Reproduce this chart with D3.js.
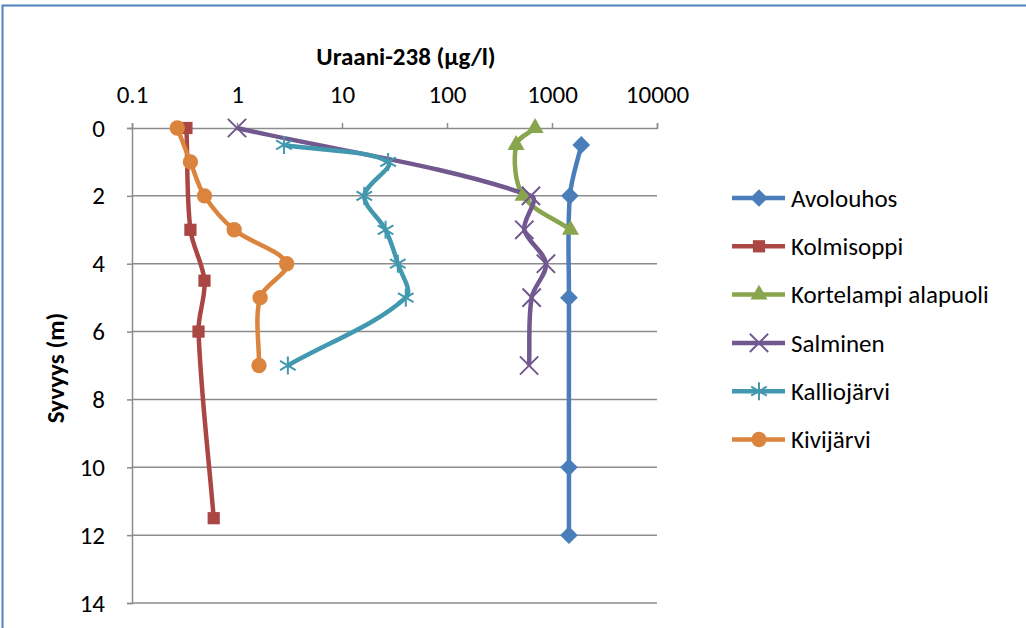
<!DOCTYPE html>
<html>
<head>
    <meta charset="utf-8">
    <script src="https://d3js.org/d3.v7.min.js"></script>
    <style type="text/css">
        body { margin: 0; background: #fff; }
        svg { display: block; font-family: Carlito, Calibri, Lato, sans-serif; }
    </style>
</head>
<body>
<script type="text/javascript">
    // depths (m) and uranium values (ug/l)
    var seriesNames = ["Avolouhos", "Kolmisoppi", "Kortelampi alapuoli", "Salminen", "Kalliojärvi", "Kivijärvi"];

    var avolouhosDepth = [0.5, 2, 5, 10, 12];
    var avolouhosValue = [1900, 1480, 1450, 1450, 1450];

    var kolmisoppiDepth = [0, 3, 4.5, 6, 11.5];
    var kolmisoppiValue = [0.33, 0.36, 0.49, 0.43, 0.6];

    var kortelampiDepth = [0, 0.5, 2, 3];
    var kortelampiValue = [690, 455, 530, 1500];

    var salminenDepth = [0, 2, 3, 4, 5, 7];
    var salminenValue = [1.0, 630, 545, 875, 640, 605];

    var kalliojarviDepth = [0.5, 1, 2, 3, 4, 5, 7];
    var kalliojarviValue = [2.8, 27.5, 16.3, 26, 34, 40.5, 3.05];

    var kivijarviDepth = [0, 1, 2, 3, 4, 5, 7];
    var kivijarviValue = [0.27, 0.36, 0.49, 0.94, 2.97, 1.66, 1.62];

    var xTicks = [0.1, 1, 10, 100, 1000, 10000];
    var yTicks = [0, 2, 4, 6, 8, 10, 12, 14];

    var colors = ["#4a7ebb", "#aa4643", "#89a54e", "#71588f", "#4198af", "#db843d"];
    var symbols = [d3.symbolDiamond2, d3.symbolSquare2, d3.symbolTriangle2, d3.symbolX, d3.symbolAsterisk, d3.symbolCircle];

    var depths = [avolouhosDepth, kolmisoppiDepth, kortelampiDepth, salminenDepth, kalliojarviDepth, kivijarviDepth];
    var values = [avolouhosValue, kolmisoppiValue, kortelampiValue, salminenValue, kalliojarviValue, kivijarviValue];

    var series = seriesNames.map(function(name, i) {
        return {
            name: name,
            color: colors[i],
            symbol: symbols[i],
            points: depths[i].map(function(d, j) { return {depth: d, value: values[i][j]}; })
        };
    });

    var width = 1026, height = 628;
    var fontSize = "25px";
    var svg = d3.select("body").append("svg")
        .attr("width", width)
        .attr("height", height);

    // outer frame (top and left edges visible)
    svg.append("path")
        .attr("d", "M2.5,628 L2.5,5.5 L1026,5.5")
        .attr("fill", "none")
        .attr("stroke", "#4f81bd")
        .attr("stroke-width", 2);

    var x = d3.scaleLog().domain([0.1, 10000]).range([132, 657]);
    var y = d3.scaleLinear().domain([0, 14]).range([128, 603]);

    // horizontal gridlines
    svg.append("g")
        .selectAll("line")
        .data(yTicks.slice(1))
        .join("line")
        .attr("x1", x(0.1)).attr("x2", x(10000))
        .attr("y1", function(d) { return y(d); })
        .attr("y2", function(d) { return y(d); })
        .attr("stroke", "#8c8c8c")
        .attr("stroke-width", 1.5);

    // x axis at top
    var xAxis = svg.append("g")
        .attr("transform", "translate(0," + y(0) + ")")
        .call(d3.axisTop(x).tickValues(xTicks).tickFormat(function(d) { return String(d); }).tickSize(5).tickPadding(20));

    // y axis on the left
    var yAxis = svg.append("g")
        .attr("transform", "translate(" + x(0.1) + ",0)")
        .call(d3.axisLeft(y).tickValues(yTicks).tickSize(5).tickPadding(22));

    [xAxis, yAxis].forEach(function(ax) {
        ax.select(".domain").attr("stroke", "#8c8c8c").attr("stroke-width", 1.5);
        ax.selectAll(".tick line").attr("stroke", "#8c8c8c").attr("stroke-width", 1.5);
        ax.selectAll(".tick text")
            .attr("fill", "#000")
            .style("font-size", fontSize)
            .style("font-family", "Carlito, Calibri, Lato, sans-serif");
    });

    // axis titles
    svg.append("text")
        .attr("x", 406).attr("y", 65)
        .attr("text-anchor", "middle")
        .style("font-size", fontSize)
        .style("font-weight", "bold")
        .text("Uraani-238 (µg/l)");

    svg.append("text")
        .attr("transform", "translate(64,368) rotate(-90)")
        .attr("text-anchor", "middle")
        .style("font-size", fontSize)
        .style("font-weight", "bold")
        .text("Syvyys (m)");

    // spreadsheet-like smoothing: chord-weighted tangents, bezier control points at 1/3 of each segment
    function smoothPath(pts) {
        var p = d3.path(), n = pts.length;
        var dist = [];
        for (var i = 0; i < n - 1; i++) {
            dist.push(Math.hypot(pts[i + 1][0] - pts[i][0], pts[i + 1][1] - pts[i][1]));
        }
        var tan = pts.map(function(pt, i) {
            if (i === 0) return [(pts[1][0] - pt[0]) / dist[0], (pts[1][1] - pt[1]) / dist[0]];
            if (i === n - 1) return [(pt[0] - pts[i - 1][0]) / dist[i - 1], (pt[1] - pts[i - 1][1]) / dist[i - 1]];
            var s = dist[i - 1] + dist[i];
            return [(pts[i + 1][0] - pts[i - 1][0]) / s, (pts[i + 1][1] - pts[i - 1][1]) / s];
        });
        p.moveTo(pts[0][0], pts[0][1]);
        for (var k = 0; k < n - 1; k++) {
            var d = dist[k] / 3;
            p.bezierCurveTo(
                pts[k][0] + tan[k][0] * d, pts[k][1] + tan[k][1] * d,
                pts[k + 1][0] - tan[k + 1][0] * d, pts[k + 1][1] - tan[k + 1][1] * d,
                pts[k + 1][0], pts[k + 1][1]);
        }
        return p.toString();
    }

    var symbolSize = function(s) {
        if (s === d3.symbolCircle) return 185;
        if (s === d3.symbolX) return 220;
        if (s === d3.symbolAsterisk) return 230;
        if (s === d3.symbolTriangle2) return 210;
        if (s === d3.symbolDiamond2) return 200;
        return 190;
    };

    function drawMarker(g, s, color) {
        var stroked = (s === d3.symbolX || s === d3.symbolAsterisk);
        g.append("path")
            .attr("d", d3.symbol().type(s).size(symbolSize(s)))
            .attr("fill", stroked ? "none" : color)
            .attr("stroke", color)
            .attr("stroke-width", stroked ? 2 : 0);
    }

    series.forEach(function(s) {
        var pts = s.points.map(function(d) { return [x(d.value), y(d.depth)]; });
        svg.append("path")
            .attr("d", smoothPath(pts))
            .attr("fill", "none")
            .attr("stroke", s.color)
            .attr("stroke-width", 4.5)
            .attr("stroke-linejoin", "round");
    });

    series.forEach(function(s) {
        s.points.forEach(function(p) {
            var g = svg.append("g")
                .attr("transform", "translate(" + x(p.value) + "," + y(p.depth) + ")");
            drawMarker(g, s.symbol, s.color);
        });
    });

    // legend
    var legend = svg.append("g");
    series.forEach(function(s, i) {
        var ly = 198 + i * 48.3;
        legend.append("line")
            .attr("x1", 732).attr("x2", 785)
            .attr("y1", ly).attr("y2", ly)
            .attr("stroke", s.color)
            .attr("stroke-width", 4.5);
        var g = legend.append("g").attr("transform", "translate(759," + ly + ")");
        drawMarker(g, s.symbol, s.color);
        legend.append("text")
            .attr("x", 791).attr("y", ly)
            .attr("dy", "0.35em")
            .style("font-size", fontSize)
            .text(s.name);
    });
</script>
</body>
</html>
